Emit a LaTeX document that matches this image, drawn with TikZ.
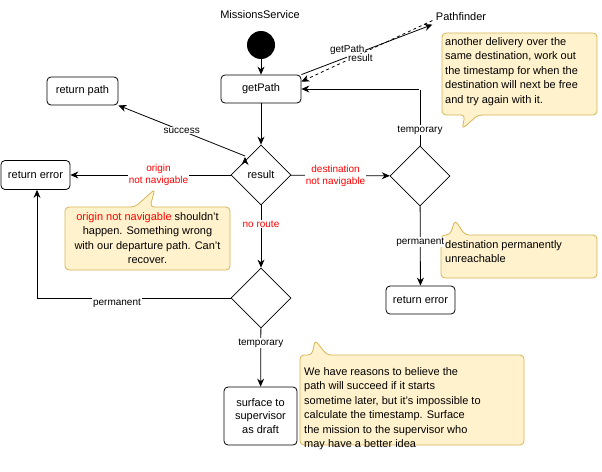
\documentclass[tikz,border=0pt]{standalone}
\usepackage{fontspec}
\setmainfont{Liberation Sans}
\usetikzlibrary{shapes.geometric,arrows.meta}
\begin{document}
\begin{tikzpicture}[x=1pt,y=-1pt,font=\fontsize{11}{13.5}\selectfont,
  box/.style={draw,rounded corners=4pt,line width=0.8pt,align=center,inner sep=2pt},
  dia/.style={draw,diamond,line width=0.8pt,minimum width=60pt,minimum height=60pt,inner sep=0pt},
  arr/.style={-{Stealth[length=8pt,width=7pt]},line width=0.8pt},
  lbl/.style={fill=white,inner sep=1pt,font=\fontsize{10}{12}\selectfont,align=center},
  red/.style={text=red},
  note/.style={draw=#1!0!black,fill=noteF,line width=0.8pt,rounded corners=4pt},
  ntext/.style={align=left,inner sep=0pt,font=\fontsize{11}{14.5}\selectfont}]
\definecolor{noteF}{HTML}{FFF2CC}\definecolor{noteD}{HTML}{D6B656}
\useasboundingbox (0,0) rectangle (602,471);
\fill[white] (0,0) rectangle (602,471);
% notes
\draw[draw=noteD,fill=noteF,line width=0.8pt,rounded corners=4pt] (442,33)--(597,33)--(597,115)--(478,115)--(462,129)--(465,115)--(442,115)--cycle;
\draw[draw=noteD,fill=noteF,line width=0.8pt,rounded corners=4pt] (65,207)--(135,207)--(155,189)--(150,207)--(230,207)--(230,270)--(65,270)--cycle;
\draw[draw=noteD,fill=noteF,line width=0.8pt,rounded corners=4pt] (441,235)--(450,235)--(455,220)--(465,235)--(597,235)--(597,278)--(441,278)--cycle;
\draw[draw=noteD,fill=noteF,line width=0.8pt,rounded corners=4pt] (300,355)--(312,355)--(315,340)--(327,355)--(524,355)--(524,445)--(300,445)--cycle;
\node[ntext,anchor=north west] (n1) at (445,37) {another delivery over the\\same destination, work out\\the timestamp for when the\\destination will next be free\\and try again with it.};
\node[ntext,align=center] (n2) at (147.5,238) {\textcolor{red}{origin not navigable} shouldn't\\happen. Something wrong\\with our departure path. Can't\\recover.};
\node[ntext,anchor=north west] (n3) at (445,240) {destination permanently\\unreachable};
\node[ntext,anchor=north west] (n4) at (304,367) {We have reasons to believe the\\path will succeed if it starts\\sometime later, but it's impossible to\\calculate the timestamp. Surface\\the mission to the supervisor who\\may have a better idea};
% nodes
\node (ms) at (260,15) {MissionsService};
\node (pf) at (461,17) {Pathfinder};
\node[circle,fill=black,minimum size=28pt,inner sep=0pt] (st) at (261,45) {};
\node[box,minimum width=80pt,minimum height=28pt] (gp) at (261,89) {getPath};
\node[box,minimum width=71pt,minimum height=28pt] (rp) at (82.5,91) {return path};
\node[dia] (res) at (261,175) {result};
\node[box,minimum width=69pt,minimum height=29pt] (re1) at (35.5,175) {return error};
\node[dia] (d2) at (420,176) {};
\node[box,minimum width=69pt,minimum height=28pt] (re2) at (420.5,300) {return error};
\node[dia] (d3) at (261,298) {};
\node[box,minimum width=73pt,minimum height=58pt] (sf) at (260.5,416) {surface to\\supervisor\\as draft};
% connectors
\draw[arr] (st) -- (gp);
\draw[arr] (gp.north east) -- (pf.south west) node[lbl,pos=0.35,above=1pt] {getPath};
\draw[arr,dashed] ([yshift=4pt]pf.south west) -- ([yshift=-7pt]gp.north east) node[lbl,pos=0.55,below=-1pt] {result};
\draw[arr] (gp) -- (res);
\draw[arr] (res.north west) ++(-16,-2) coordinate (sx) (res) ++(-16,-18) coordinate (sa);
\draw[arr] (245,156) -- (rp.south east) node[lbl,pos=0.5] {success};
\draw[arr] (res) -- (re1) node[lbl,red,pos=0.45] {origin\\not navigable};
\draw[arr] (res) -- (d2) node[lbl,red,pos=0.45] {destination\\not navigable};
\draw[arr] (d2.north) -- (420,89) -- (gp.east) node[lbl,pos=-0.4,at start] {};
\node[lbl] (tl1) at (420,130) {temporary};
\draw[arr] (d2) -- (re2) node[lbl,pos=0.45] {permanent};
\draw[arr] (res) -- (d3) node[lbl,red,pos=0.3] {no route};
\draw[arr] (d3.west) -- (37,298) -- (re1.south -| 37,0) node[lbl,pos=-0.55] {};
\node[lbl] (pl) at (117,303) {permanent};
\draw[arr] (d3) -- (sf) node[lbl,pos=0.25] {temporary};
\end{tikzpicture}
\end{document}
